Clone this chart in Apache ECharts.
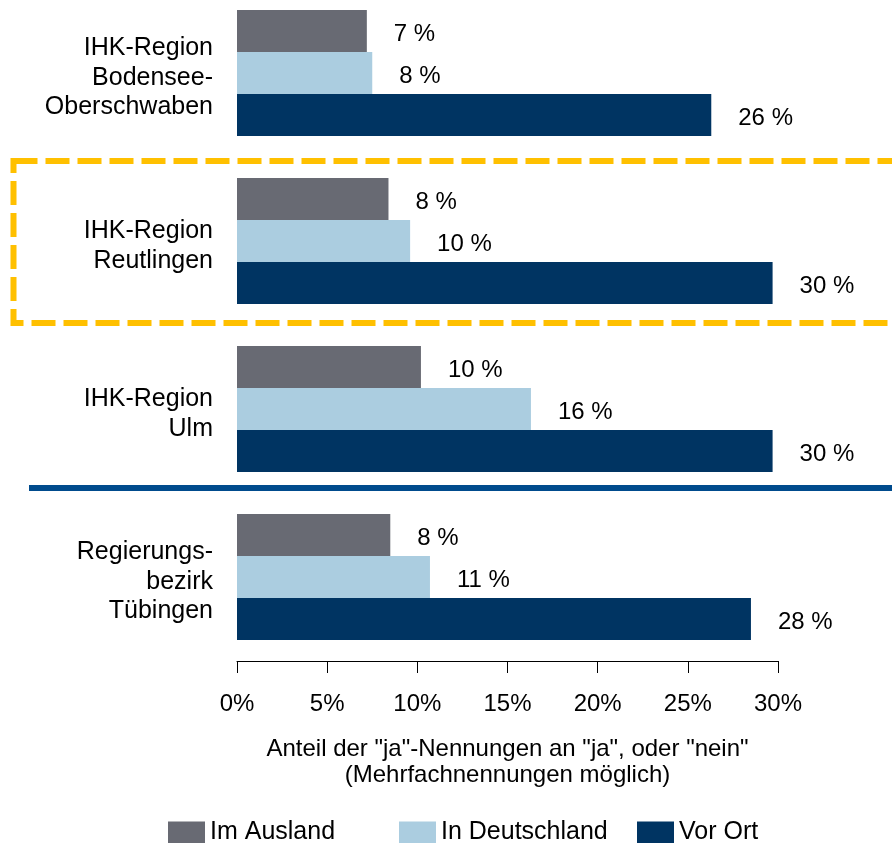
<!DOCTYPE html>
<html lang="de">
<head>
  <meta charset="UTF-8">
  <title>IHK-Regionen</title>
  <script src="https://cdn.jsdelivr.net/npm/echarts@6/dist/echarts.min.js"></script>
  <style>
    html, body { margin: 0; padding: 0; background: #fff; }
    #main { width: 892px; height: 843px; }
  </style>
</head>
<body>
  <div id="main"></div>
  <script>
    // Kategorien (von oben nach unten)
    var regions = [
      'IHK-Region\nBodensee-\nOberschwaben',
      'IHK-Region\nReutlingen',
      'IHK-Region\nUlm',
      'Regierungs-\nbezirk\nTübingen'
    ]
    // Balkenlängen in %
    var imAusland = [7.2, 8.4, 10.2, 8.5]
    var inDeutschland = [7.5, 9.6, 16.3, 10.7]
    var vorOrt = [26.3, 29.7, 29.7, 28.5]
    // beschriftete Werte
    var lblAusland = [7, 8, 10, 8]
    var lblDeutschland = [8, 10, 16, 11]
    var lblVorOrt = [26, 30, 30, 28]
    var xTicks = [0, 5, 10, 15, 20, 25, 30]

    var font = 'Liberation Sans'
    var fs = 24
    var mCharts = echarts.init(document.getElementById('main'))

    function makeSeries(name, values, labels, color) {
      return {
        name: name,
        type: 'bar',
        data: values,
        itemStyle: { color: color },
        barGap: '0%',
        barCategoryGap: '25%',
        label: {
          show: true,
          position: 'right',
          distance: 27,
          offset: [0, 3],
          color: '#000',
          fontFamily: font,
          fontSize: fs,
          formatter: function (p) { return labels[p.dataIndex] + ' %' }
        }
      }
    }

    function makeLegend(name, left) {
      return {
        data: [name],
        left: left,
        top: 815,
        itemWidth: 37,
        itemHeight: 22,
        itemGap: 0,
        icon: 'rect',
        textStyle: { color: '#000', fontFamily: font, fontSize: 25 }
      }
    }

    var option = {
      animation: false,
      grid: {
        left: 237, right: 114, top: -11, bottom: 843 - 661,
        containLabel: false,
        outerBoundsMode: 'none'
      },
      legend: [
        makeLegend('Im Ausland', 163),
        makeLegend('In Deutschland', 394),
        makeLegend('Vor Ort', 632)
      ],
      xAxis: {
        type: 'value',
        min: xTicks[0],
        max: xTicks[xTicks.length - 1],
        interval: 5,
        splitLine: { show: false },
        axisLine: { show: true, lineStyle: { color: '#000', width: 1 } },
        axisTick: { show: true, length: 12, lineStyle: { color: '#000' } },
        axisLabel: {
          margin: 31,
          color: '#000',
          fontFamily: font,
          fontSize: fs,
          formatter: '{value}%'
        },
        name: 'Anteil der "ja"-Nennungen an "ja", oder "nein"\n(Mehrfachnennungen möglich)',
        nameLocation: 'middle',
        nameGap: 75,
        nameTextStyle: { color: '#000', fontFamily: font, fontSize: fs, lineHeight: 26 }
      },
      yAxis: {
        type: 'category',
        inverse: true,
        data: regions,
        axisLine: { show: false },
        axisTick: { show: false },
        axisLabel: {
          margin: 24,
          color: '#000',
          fontFamily: font,
          fontSize: 25,
          lineHeight: 29.5,
          align: 'right',
          // leere Zeile oben schiebt den Text etwas nach unten
          formatter: function (v) { return '{s| }\n' + v },
          rich: { s: { fontSize: 1, lineHeight: 10 } }
        }
      },
      series: [
        makeSeries('Im Ausland', imAusland, lblAusland, '#686a73'),
        makeSeries('In Deutschland', inDeutschland, lblDeutschland, '#abcde0'),
        makeSeries('Vor Ort', vorOrt, lblVorOrt, '#003462')
      ],
      graphic: [
        {
          type: 'rect',
          shape: { x: 13.5, y: 161, width: 900, height: 162 },
          style: { fill: null, stroke: '#ffc000', lineWidth: 6, lineDash: [24, 8] },
          z: 10
        },
        {
          type: 'line',
          shape: { x1: 29, y1: 488, x2: 892, y2: 488 },
          style: { stroke: '#004b8d', lineWidth: 6 },
          z: 10
        }
      ]
    }
    mCharts.setOption(option)
  </script>
</body>
</html>
